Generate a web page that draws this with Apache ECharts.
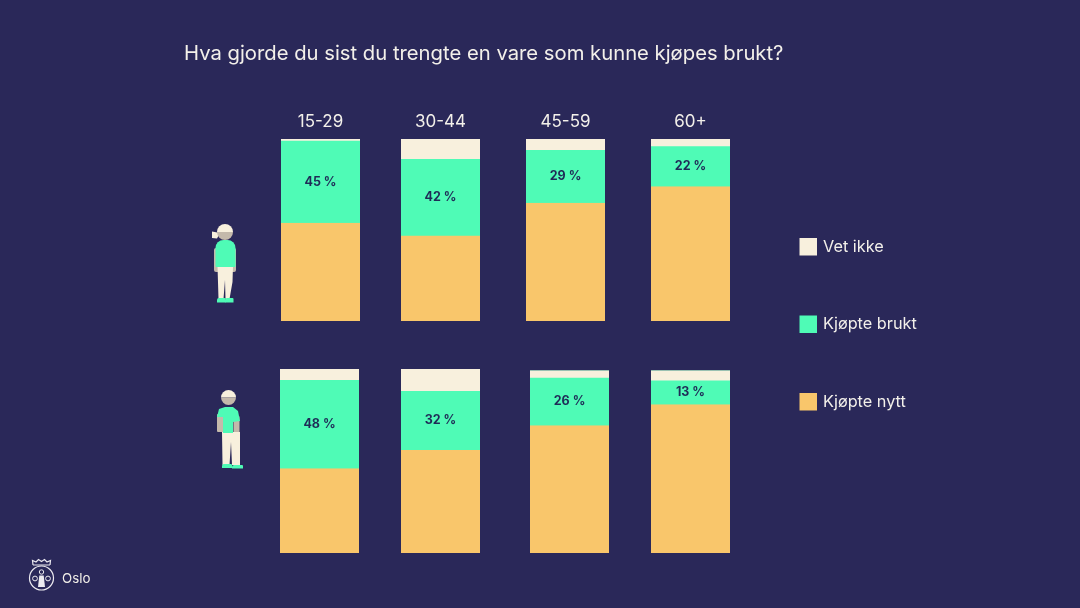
<!DOCTYPE html>
<html lang="no">
<head>
<meta charset="utf-8">
<title>Kjøp av brukte varer</title>
<style>
  html, body { margin: 0; padding: 0; background: #2a2859; }
  #chart { width: 1080px; height: 608px; }
</style>
<script src="https://cdn.jsdelivr.net/npm/echarts@6/dist/echarts.min.js"></script>
</head>
<body>
<div id="chart"></div>
<script>
// Survey answers in percent, one value per age group.
const ageGroups = ['15-29', '30-44', '45-59', '60+'];

const womenNew = [54, 47, 65, 74];
const womenUsed = [45, 42, 29, 22];
const womenUnknown = [1, 11, 6, 4];

const menNew = [46, 56, 70, 81.5];
const menUsed = [48, 32, 26, 13];
const menUnknown = [6, 12, 4, 5.5];

const seriesNames = { unknown: 'Vet ikke', used: 'Kjøpte brukt', fresh: 'Kjøpte nytt' };
const titleText = 'Hva gjorde du sist du trengte en vare som kunne kjøpes brukt?';

const NAVY = '#2a2859';
const CREAM = '#f8f0dd';
const GREEN = '#4ffbb6';
const YELLOW = '#f9c66b';
const SKIN = '#c4b9ab';
const TEXT = '#f3f0ea';
const FONT = 'Inter, "Noto Sans", sans-serif';

// Each row is a set of single-bar panels, so columns can sit at their own offsets.
const rows = [
  { fresh: womenNew, used: womenUsed, unknown: womenUnknown, top: [139, 139, 139, 139], height: [182, 182, 182, 182], left: [281, 401, 526, 651], ticks: true },
  { fresh: menNew, used: menUsed, unknown: menUnknown, top: [369, 369, 370.5, 370.5], height: [184, 184, 182.5, 182.5], left: [280, 401, 530, 651], ticks: false }
];

const grids = [], xAxes = [], yAxes = [], series = [];

rows.forEach((row) => {
  ageGroups.forEach((age, col) => {
    const idx = grids.length;
    // The panel fill sits behind the stack so fractional segment joins show no dark seam.
    grids.push({
      left: row.left[col], top: row.top[col], width: 79, height: row.height[col],
      show: true, backgroundColor: GREEN, borderWidth: 0
    });
    xAxes.push({
      type: 'category', gridIndex: idx, data: [age], position: 'top',
      axisLine: { show: false }, axisTick: { show: false },
      axisLabel: { show: row.ticks, color: TEXT, fontFamily: FONT, fontSize: 17, margin: 9 }
    });
    yAxes.push({ type: 'value', gridIndex: idx, min: 0, max: 100, show: false, splitLine: { show: false } });
    const base = { type: 'bar', xAxisIndex: idx, yAxisIndex: idx, stack: 'p' + idx, barWidth: '100%', silent: true };
    series.push(
      { ...base, name: seriesNames.fresh, data: [row.fresh[col]], itemStyle: { color: YELLOW } },
      {
        ...base, name: seriesNames.used, data: [row.used[col]], itemStyle: { color: GREEN },
        label: { show: true, position: 'inside', formatter: '{c} %', color: '#1f2c57', fontFamily: FONT, fontSize: 12.5, fontWeight: 700 }
      },
      { ...base, name: seriesNames.unknown, data: [row.unknown[col]], itemStyle: { color: CREAM } }
    );
  });
});

// Pictograms and the city mark are plain decoration around the plot.
const woman = [
  { type: 'rect', shape: { x: 214, y: 248, width: 22, height: 24, r: 2 }, style: { fill: SKIN } },
  { type: 'polygon', shape: { points: [[217.5, 266], [233, 266], [232.5, 282], [229.5, 299], [225.5, 299], [225, 280], [223.5, 299], [218.5, 299]] }, style: { fill: CREAM } },
  { type: 'rect', shape: { x: 217, y: 298, width: 8.5, height: 4.5, r: [2, 1, 0, 0] }, style: { fill: GREEN } },
  { type: 'rect', shape: { x: 225, y: 298, width: 8.5, height: 4.5, r: [2, 1, 0, 0] }, style: { fill: GREEN } },
  { type: 'rect', shape: { x: 215.5, y: 240, width: 20, height: 27, r: [8, 8, 1, 1] }, style: { fill: GREEN } },
  { type: 'polygon', shape: { points: [[220, 233], [212, 231.5], [212, 238], [217, 238.5]] }, style: { fill: CREAM } },
  { type: 'sector', shape: { cx: 225, cy: 232, r: 8, startAngle: Math.PI, endAngle: Math.PI * 2 }, style: { fill: CREAM } },
  { type: 'sector', shape: { cx: 225, cy: 232, r: 8, startAngle: 0, endAngle: Math.PI }, style: { fill: SKIN } }
];

const man = [
  { type: 'rect', shape: { x: 217, y: 414, width: 8, height: 18, r: 1 }, style: { fill: SKIN } },
  { type: 'rect', shape: { x: 233.5, y: 416, width: 6, height: 22, r: 1 }, style: { fill: SKIN } },
  { type: 'polygon', shape: { points: [[222, 432], [240, 432], [240, 465], [232, 465], [231, 442], [229.5, 465], [222.5, 465]] }, style: { fill: CREAM } },
  { type: 'rect', shape: { x: 222, y: 464, width: 10, height: 4, r: [2, 1, 0, 0] }, style: { fill: GREEN } },
  { type: 'rect', shape: { x: 232, y: 465, width: 11, height: 3.5, r: [2, 1, 0, 0] }, style: { fill: GREEN } },
  { type: 'polygon', shape: { points: [[217, 417], [219, 409], [225, 407], [233, 407], [238, 411], [240, 421], [233, 422], [233, 433], [223, 433], [223, 417]] }, style: { fill: GREEN } },
  { type: 'sector', shape: { cx: 228.5, cy: 397.5, r: 7.5, startAngle: Math.PI, endAngle: Math.PI * 2 }, style: { fill: CREAM } },
  { type: 'sector', shape: { cx: 228.5, cy: 397.5, r: 7.5, startAngle: 0, endAngle: Math.PI }, style: { fill: SKIN } }
];

const ink = '#eceaf0';
const cityMark = [
  { type: 'circle', shape: { cx: 41.5, cy: 578, r: 12 }, style: { fill: 'transparent', stroke: ink, lineWidth: 1.2 } },
  { type: 'polyline', shape: { points: [[33, 565], [32.5, 560.5], [36, 562], [38.5, 559.5], [41.5, 561.5], [44.5, 559.5], [47, 562], [50.5, 560.5], [50, 565]] }, style: { fill: 'transparent', stroke: ink, lineWidth: 1.2 } },
  { type: 'line', shape: { x1: 33, y1: 565, x2: 50, y2: 565 }, style: { stroke: ink, lineWidth: 1 } },
  { type: 'circle', shape: { cx: 41.5, cy: 572, r: 2.2 }, style: { fill: 'transparent', stroke: ink, lineWidth: 1 } },
  { type: 'polygon', shape: { points: [[39.3, 575.5], [43.7, 575.5], [45, 587], [38, 587]] }, style: { fill: ink } },
  { type: 'circle', shape: { cx: 35, cy: 578.5, r: 2.4 }, style: { fill: 'transparent', stroke: ink, lineWidth: 1 } },
  { type: 'circle', shape: { cx: 48, cy: 578.5, r: 2.4 }, style: { fill: 'transparent', stroke: ink, lineWidth: 1 } },
  { type: 'text', style: { x: 62, y: 572, text: 'Oslo', fill: TEXT, font: '13.3px ' + FONT } }
];

const chart = echarts.init(document.getElementById('chart'), null, { renderer: 'canvas' });
chart.setOption({
  animation: false,
  backgroundColor: NAVY,
  title: {
    text: titleText, left: 179, top: 39,
    textStyle: { color: TEXT, fontFamily: FONT, fontSize: 20.25, fontWeight: 400 }
  },
  legend: {
    orient: 'vertical', left: 794.5, top: 233,
    data: [seriesNames.unknown, seriesNames.used, seriesNames.fresh],
    icon: 'rect', itemWidth: 17.5, itemHeight: 17.5, itemGap: 60, selectedMode: false,
    textStyle: { color: TEXT, fontFamily: FONT, fontSize: 16.3, padding: [0, 0, 0, 1] }
  },
  grid: grids, xAxis: xAxes, yAxis: yAxes, series,
  graphic: { elements: [...woman, ...man, ...cityMark].map((el) => ({ ...el, silent: true })) }
});
</script>
</body>
</html>
